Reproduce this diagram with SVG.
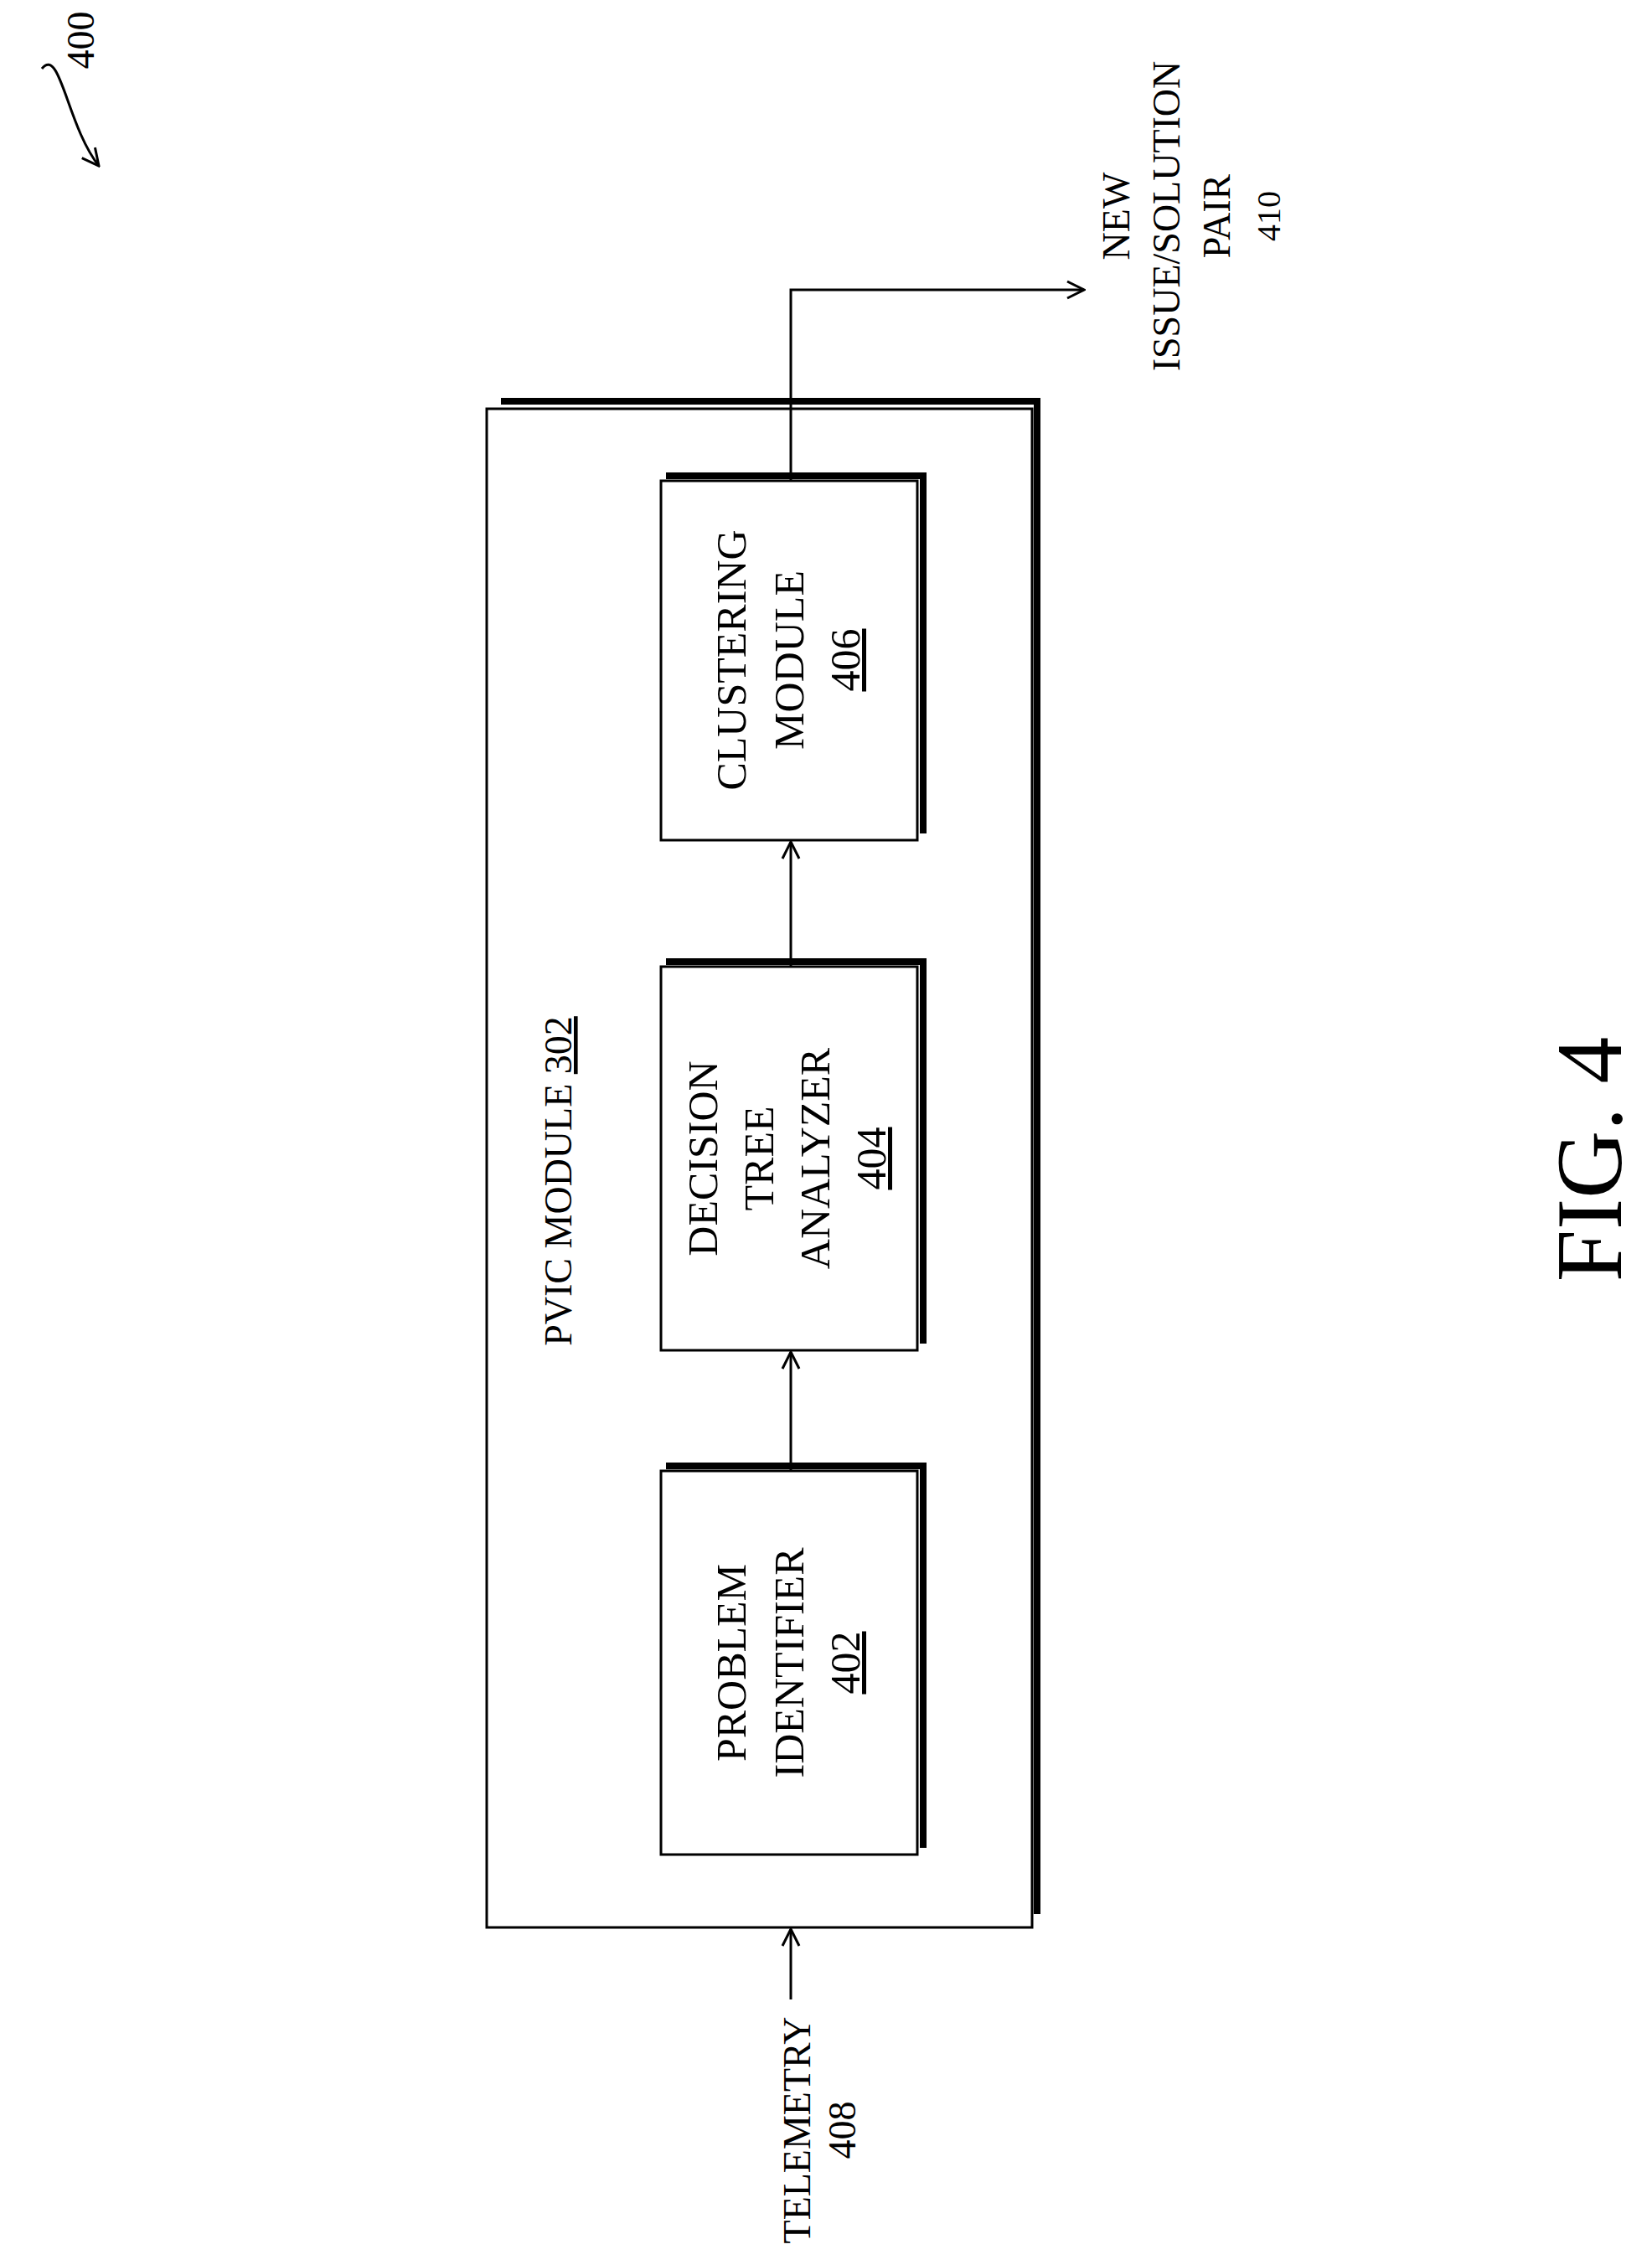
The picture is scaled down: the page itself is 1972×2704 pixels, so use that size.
<svg xmlns="http://www.w3.org/2000/svg" width="1972" height="2704" viewBox="0 0 1972 2704">
<style>
text{font-family:"Liberation Serif","Times New Roman",serif;fill:#000;text-anchor:middle}
.t{font-size:46px}
.b{font-size:50px}
.box{fill:#fff;stroke:#000;stroke-width:3}
.sh{fill:none;stroke:#000;stroke-width:8}
.ln{fill:none;stroke:#000;stroke-width:3}
</style>
<defs>
<marker id="a" markerWidth="24" markerHeight="24" refX="22" refY="12" orient="auto" markerUnits="userSpaceOnUse">
<path d="M2,2 L22,12 L2,22" fill="none" stroke="#000" stroke-width="3"/>
</marker>
</defs>
<rect width="1972" height="2704" fill="#fff"/>
<g id="label400">
<text class="t" transform="translate(96,48) rotate(-90)" dy="16">400</text>
<path class="ln" d="M50,82 C72,55 80,150 118,198" marker-end="url(#a)"/>
</g>
<g id="pvic">
<path class="sh" d="M598,479 H1238 V2285"/>
<rect class="box" x="581" y="488" width="651" height="1813"/>
<text class="t" transform="translate(666,1410) rotate(-90)" dy="16">PVIC MODULE <tspan text-decoration="underline">302</tspan></text>
</g>
<g id="n402">
<path class="sh" d="M795,1750 H1102 V2206"/>
<rect class="box" x="789" y="1756" width="306" height="458"/>
<text class="b" transform="translate(942,1985) rotate(-90)"><tspan x="0" y="-52">PROBLEM</tspan><tspan x="0" y="17">IDENTIFIER</tspan><tspan x="0" y="84" text-decoration="underline">402</tspan></text>
</g>
<g id="n404">
<path class="sh" d="M795,1148 H1102 V1604"/>
<rect class="box" x="789" y="1154" width="306" height="458"/>
<text class="b" transform="translate(942,1383) rotate(-90)"><tspan x="0" y="-86">DECISION</tspan><tspan x="0" y="-19">TREE</tspan><tspan x="0" y="48">ANALYZER</tspan><tspan x="0" y="115" text-decoration="underline">404</tspan></text>
</g>
<g id="n406">
<path class="sh" d="M795,568 H1102 V995"/>
<rect class="box" x="789" y="574" width="306" height="429"/>
<text class="b" transform="translate(942,788) rotate(-90)"><tspan x="0" y="-52">CLUSTERING</tspan><tspan x="0" y="17">MODULE</tspan><tspan x="0" y="84" text-decoration="underline">406</tspan></text>
</g>
<g id="telemetry">
<text class="t" transform="translate(977,2543) rotate(-90)"><tspan x="0" y="-10">TELEMETRY</tspan><tspan x="0" y="44">408</tspan></text>
</g>
<g id="output">
<text class="t" transform="translate(1392,258) rotate(-90)"><tspan x="0" y="-44">NEW</tspan><tspan x="0" y="16">ISSUE/SOLUTION</tspan><tspan x="0" y="76">PAIR</tspan><tspan x="0" y="136" font-size="40">410</tspan></text>
</g>
<g id="connectors">
<path class="ln" d="M944,2387 V2303" marker-end="url(#a)"/>
<path class="ln" d="M944,1756 V1614" marker-end="url(#a)"/>
<path class="ln" d="M944,1154 V1005" marker-end="url(#a)"/>
<path class="ln" d="M944,574 V346 H1294" marker-end="url(#a)"/>
</g>
<g id="fig">
<text transform="translate(1895,1384) rotate(-90)" dy="40" font-size="112">FIG. 4</text>
</g>
</svg>
